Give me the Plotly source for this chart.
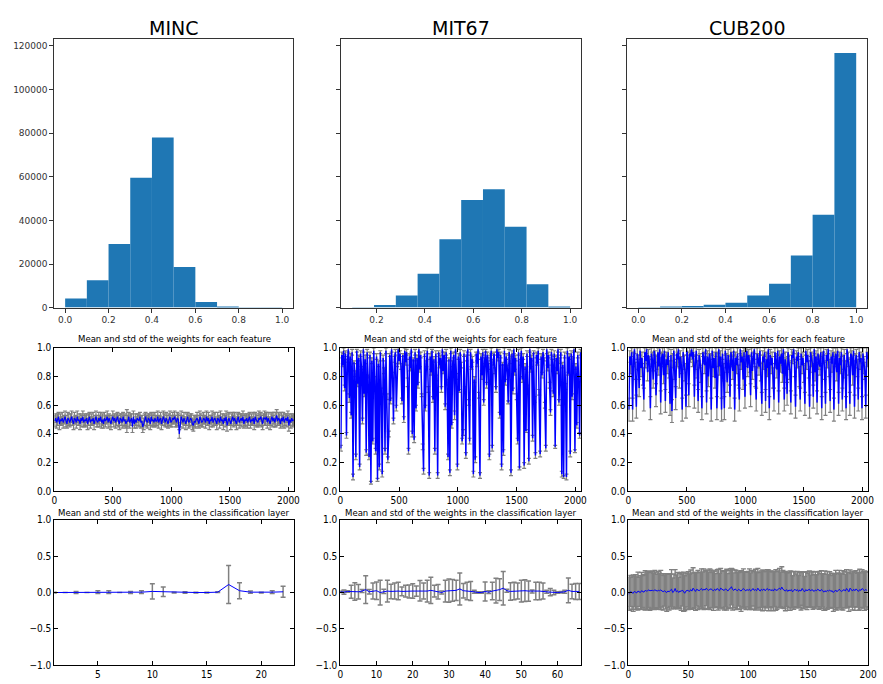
import numpy as np
import plotly.graph_objects as go

W, H = 883, 684

# ---------------- data ----------------
datasets = ["MINC", "MIT67", "CUB200"]

# histograms of the weights (bin edges, counts)
minc_hist_edges = [0.0, 0.1, 0.2, 0.3, 0.4, 0.5, 0.6, 0.7, 0.8, 0.9, 1.0]
minc_hist_counts = [4200, 12500, 29200, 59500, 78000, 18650, 2560, 450, 40, 10]
mit67_hist_edges = [0.10, 0.19, 0.28, 0.37, 0.46, 0.55, 0.64, 0.73, 0.82, 0.91, 1.00]
mit67_hist_counts = [20, 1200, 5560, 15500, 31400, 49300, 54300, 37100, 10700, 300]
cub_hist_edges = [0.0, 0.1, 0.2, 0.3, 0.4, 0.5, 0.6, 0.7, 0.8, 0.9, 1.0]
cub_hist_counts = [80, 450, 750, 1350, 2250, 5560, 10960, 23870, 42640, 116800]

# per-feature mean / std (sampled every 8 features, in hundredths)
n_features = 2048
feature_step = 8
minc_feat_mean = [
    49, 51, 48, 50, 52, 47, 50, 49, 51, 48, 50, 52, 49, 47, 51, 50,
    48, 50, 52, 49, 47, 51, 50, 48, 52, 49, 50, 47, 51, 49, 52, 48,
    50, 49, 51, 47, 50, 52, 48, 50, 49, 51, 47, 50, 52, 49, 48, 51,
    49, 52, 48, 50, 47, 51, 49, 50, 52, 48, 51, 49, 47, 50, 52, 49,
    51, 48, 50, 52, 49, 47, 51, 50, 48, 52, 49, 50, 47, 49, 49, 52,
    48, 50, 51, 45, 52, 47, 50, 48, 51, 50, 49, 52, 48, 49, 45, 47,
    50, 52, 49, 48, 51, 50, 47, 52, 49, 50, 48, 51, 49, 49, 52, 48,
    50, 51, 47, 49, 52, 50, 48, 51, 49, 47, 50, 52, 48, 49, 51, 50,
    52, 49, 48, 51, 50, 40, 49, 52, 50, 48, 51, 49, 47, 50, 52, 48,
    49, 51, 50, 47, 46, 49, 48, 50, 51, 49, 47, 52, 50, 48, 49, 51,
    50, 48, 52, 49, 51, 47, 50, 49, 52, 48, 50, 51, 49, 47, 51, 50,
    48, 52, 49, 50, 47, 51, 49, 52, 46, 50, 51, 49, 47, 50, 52, 49,
    51, 49, 47, 50, 52, 48, 50, 51, 49, 52, 47, 50, 49, 51, 48, 50,
    52, 48, 50, 49, 51, 47, 52, 50, 49, 48, 51, 50, 52, 49, 47, 51,
    51, 50, 52, 48, 51, 49, 47, 50, 52, 49, 51, 48, 50, 53, 49, 51,
    50, 47, 51, 49, 52, 48, 50, 51, 49, 52, 46, 50, 48, 51, 49, 50,
]
minc_feat_std = [
    4, 3, 4, 4, 3, 4, 4, 3, 4, 4, 3, 4, 4, 3, 4, 4,
    3, 4, 4, 3, 4, 4, 3, 4, 4, 3, 4, 4, 3, 4, 4, 3,
    4, 4, 3, 4, 4, 3, 4, 4, 3, 4, 4, 3, 4, 4, 3, 4,
    4, 3, 4, 4, 3, 4, 4, 3, 4, 4, 3, 4, 4, 3, 4, 4,
    3, 4, 4, 3, 4, 4, 3, 4, 4, 3, 4, 4, 3, 8, 4, 3,
    4, 4, 3, 4, 4, 3, 4, 4, 3, 4, 4, 3, 4, 4, 4, 4,
    4, 3, 4, 4, 3, 4, 4, 3, 4, 4, 3, 4, 4, 3, 4, 4,
    3, 4, 4, 3, 4, 4, 3, 4, 4, 3, 4, 4, 3, 4, 4, 3,
    4, 4, 3, 4, 4, 3, 4, 4, 3, 4, 4, 3, 4, 4, 3, 4,
    4, 3, 4, 4, 4, 4, 4, 3, 4, 4, 3, 4, 4, 3, 4, 4,
    3, 4, 4, 3, 4, 4, 3, 4, 4, 3, 4, 4, 3, 4, 4, 3,
    4, 4, 3, 4, 4, 3, 4, 4, 4, 4, 4, 3, 4, 4, 3, 4,
    4, 3, 4, 4, 3, 4, 4, 3, 4, 4, 3, 4, 4, 3, 4, 4,
    3, 4, 4, 3, 4, 4, 3, 4, 4, 3, 5, 4, 3, 4, 4, 3,
    5, 4, 3, 4, 4, 3, 4, 4, 3, 4, 4, 3, 5, 4, 3, 4,
    4, 3, 4, 4, 3, 4, 4, 3, 4, 4, 4, 4, 4, 3, 4, 4,
]
mit67_feat_mean = [
    30, 95, 88, 98, 72, 96, 39, 91, 99, 65, 94, 53, 97, 10, 90, 82,
    24, 98, 75, 93, 17, 96, 86, 49, 99, 68, 92, 27, 97, 80, 24, 95,
    6, 91, 35, 98, 77, 28, 94, 8, 89, 17, 97, 70, 12, 93, 84, 28,
    98, 66, 22, 40, 95, 63, 99, 81, 49, 92, 97, 58, 88, 99, 91, 96,
    87, 63, 95, 50, 98, 90, 97, 76, 28, 94, 86, 99, 40, 92, 36, 97,
    58, 93, 74, 99, 85, 95, 67, 31, 14, 96, 58, 89, 98, 71, 11, 94,
    83, 98, 64, 92, 28, 96, 79, 11, 97, 88, 93, 71, 99, 84, 95, 59,
    97, 76, 24, 92, 13, 98, 46, 89, 95, 53, 99, 80, 17, 94, 70, 97,
    88, 35, 41, 96, 72, 25, 93, 99, 62, 35, 97, 86, 92, 12, 78, 22,
    96, 89, 99, 67, 11, 94, 81, 97, 62, 91, 98, 74, 95, 87, 24, 93,
    98, 30, 90, 96, 84, 71, 99, 93, 97, 53, 95, 17, 89, 27, 98, 76,
    94, 86, 62, 97, 91, 13, 96, 70, 99, 83, 93, 66, 35, 97, 16, 90,
    98, 78, 94, 18, 87, 42, 96, 72, 21, 99, 85, 93, 37, 97, 64, 25,
    95, 89, 98, 69, 26, 94, 81, 97, 92, 60, 30, 99, 86, 95, 74, 55,
    97, 90, 68, 96, 31, 93, 84, 99, 62, 91, 97, 12, 88, 10, 95, 73,
    10, 98, 82, 94, 26, 96, 66, 91, 99, 28, 87, 46, 95, 78, 39, 97,
]
mit67_feat_std = [
    2, 2, 1, 2, 2, 2, 2, 1, 2, 3, 2, 2, 2, 2, 1, 2,
    2, 1, 2, 2, 2, 2, 1, 2, 2, 2, 3, 2, 2, 1, 2, 2,
    1, 2, 2, 2, 3, 2, 2, 1, 2, 2, 1, 2, 2, 2, 2, 2,
    2, 2, 2, 2, 1, 2, 2, 2, 2, 2, 2, 2, 1, 2, 2, 2,
    2, 2, 1, 2, 2, 2, 2, 3, 2, 2, 2, 2, 2, 1, 2, 2,
    2, 2, 2, 2, 2, 2, 1, 2, 2, 2, 2, 2, 2, 2, 2, 2,
    2, 1, 2, 2, 2, 2, 2, 2, 1, 2, 2, 2, 2, 2, 2, 2,
    2, 2, 2, 1, 2, 2, 2, 2, 2, 3, 2, 2, 2, 2, 1, 2,
    2, 2, 2, 2, 1, 2, 2, 2, 2, 2, 2, 1, 2, 2, 2, 2,
    1, 2, 2, 2, 2, 2, 3, 2, 2, 2, 1, 2, 2, 2, 2, 2,
    2, 2, 2, 1, 2, 2, 2, 2, 2, 2, 2, 2, 1, 2, 2, 2,
    2, 2, 1, 2, 2, 2, 2, 2, 3, 2, 2, 2, 2, 2, 1, 2,
    2, 2, 2, 2, 2, 1, 2, 2, 2, 2, 2, 2, 2, 1, 2, 2,
    2, 1, 2, 2, 2, 2, 2, 2, 1, 2, 2, 3, 2, 2, 2, 2,
    2, 2, 2, 2, 1, 2, 2, 2, 2, 2, 2, 2, 2, 1, 2, 2,
    2, 2, 1, 2, 2, 2, 2, 2, 2, 1, 2, 2, 2, 2, 2, 2,
]
cub_feat_mean = [
    57, 94, 88, 97, 57, 92, 99, 84, 59, 96, 90, 72, 98, 86, 93, 80,
    64, 97, 91, 99, 83, 95, 89, 58, 96, 92, 78, 98, 94, 67, 90, 97,
    87, 99, 62, 93, 96, 81, 98, 63, 92, 88, 97, 85, 61, 95, 56, 91,
    98, 84, 65, 96, 92, 99, 79, 94, 88, 57, 97, 90, 83, 59, 98, 93,
    67, 96, 94, 99, 92, 97, 66, 90, 98, 85, 63, 95, 91, 82, 58, 97,
    93, 88, 99, 62, 94, 80, 96, 91, 57, 98, 86, 93, 79, 97, 58, 92,
    99, 87, 94, 57, 96, 83, 58, 98, 91, 76, 95, 89, 66, 97, 92, 84,
    98, 57, 93, 88, 96, 81, 64, 99, 90, 94, 78, 97, 66, 92, 98, 86,
    95, 89, 67, 97, 84, 93, 99, 80, 64, 96, 91, 87, 98, 83, 61, 94,
    90, 97, 63, 92, 86, 99, 58, 95, 88, 93, 79, 64, 97, 91, 85, 98,
    62, 94, 89, 96, 82, 99, 64, 92, 87, 68, 97, 90, 84, 62, 95, 93,
    99, 86, 59, 94, 91, 97, 80, 64, 96, 88, 93, 82, 61, 98, 90, 95,
    85, 59, 97, 92, 89, 66, 99, 83, 94, 62, 96, 90, 87, 97, 58, 93,
    98, 84, 61, 95, 91, 99, 86, 63, 94, 89, 97, 57, 92, 96, 83, 98,
    61, 93, 88, 97, 64, 90, 95, 85, 58, 99, 92, 87, 61, 96, 94, 81,
    98, 59, 91, 95, 86, 64, 97, 90, 93, 58, 96, 88, 84, 59, 97, 92,
]
cub_feat_std = [
    8, 4, 6, 3, 8, 5, 3, 6, 8, 4, 5, 6, 3, 6, 4, 6,
    8, 3, 5, 3, 6, 4, 5, 8, 4, 5, 6, 3, 4, 8, 5, 3,
    6, 3, 8, 4, 4, 6, 3, 8, 5, 6, 3, 6, 8, 4, 8, 5,
    3, 6, 8, 4, 5, 3, 7, 4, 6, 8, 3, 5, 6, 8, 3, 4,
    8, 4, 4, 3, 5, 3, 8, 5, 3, 6, 8, 4, 5, 6, 8, 3,
    4, 6, 3, 8, 4, 7, 4, 5, 8, 3, 6, 4, 7, 3, 8, 5,
    3, 6, 4, 8, 4, 6, 8, 3, 5, 7, 4, 6, 8, 3, 5, 6,
    3, 8, 4, 6, 4, 7, 8, 3, 5, 4, 7, 3, 8, 5, 3, 6,
    4, 6, 8, 3, 6, 4, 3, 7, 8, 4, 5, 6, 3, 6, 8, 4,
    5, 3, 8, 5, 6, 3, 8, 4, 6, 4, 7, 8, 3, 5, 6, 3,
    8, 4, 6, 4, 6, 3, 8, 5, 6, 8, 3, 5, 6, 8, 4, 4,
    3, 6, 8, 4, 5, 3, 7, 8, 4, 6, 4, 6, 8, 3, 5, 4,
    6, 8, 3, 5, 6, 8, 3, 6, 4, 8, 4, 5, 6, 3, 8, 4,
    3, 6, 8, 4, 5, 3, 6, 8, 4, 6, 3, 8, 5, 4, 6, 3,
    8, 4, 6, 3, 8, 5, 4, 6, 8, 3, 5, 6, 8, 4, 4, 7,
    3, 8, 5, 4, 6, 8, 3, 5, 4, 8, 4, 6, 6, 8, 3, 5,
]

# classification layer mean / std per class
minc_cls_x = list(range(1, 23))
minc_cls_mean_milli = [0, 0, 0, 0, 5, 5, 0, 0, 5, 15, 10, 0, 0, 0, 0, 5, 110, 25, 5, 0, 5, 10]
minc_cls_std_milli = [5, 0, 15, 0, 20, 20, 0, 15, 20, 105, 65, 5, 10, 5, 5, 5, 260, 110, 15, 5, 20, 75]

mit67_cls_x = list(range(0, 67))
mit67_cls_mean_milli = [10, 5, 15, 10, 15, 10, 20, 40, 10, 20, 25, 0, 15, 20, 15, 20, 20, 15, 20, 15,
                        20, 20, 25, 20, 20, 30, 20, 10, 0, 20, 25, 30, 30, 50, 25, 20, 20, 10, 0, 0,
                        15, 5, 20, 25, 40, 60, 25, 15, 20, 20, 20, 25, 20, 15, 20, 20, 20, 10, 5, 0,
                        0, 5, 10, 30, 15, 15, 15]
mit67_cls_std_centi = [1, 3, 1, 9, 12, 10, 2, 19, 3, 11, 12, 17, 3, 15, 10, 11, 12, 6, 8, 9,
                       10, 7, 14, 11, 15, 18, 8, 10, 2, 15, 16, 15, 14, 22, 10, 12, 13, 2, 1, 1,
                       13, 2, 12, 17, 15, 23, 2, 12, 12, 11, 15, 15, 14, 2, 12, 12, 11, 2, 5, 3,
                       1, 1, 2, 17, 10, 11, 11]

cub_cls_x = list(range(0, 200))
cub_cls_mean_milli = [
    -20, -5, 10, 0, -10, 15, 5, -5, 20, 10, 0, 25, 15, 5, 30, 20, 25, 35, 25, 30,
    30, 25, 35, 30, 20, 30, 25, 35, 20, 10, 25, 15, 0, 20, 10, 30, 45, 0, 15, 55,
    10, 25, 0, 20, 15, 35, 10, -10, 20, 30, 25, 15, 40, 20, 60, 30, 15, 45, 35, 25,
    40, 55, 30, 45, 35, 60, 40, 30, 45, 50, 35, 25, 45, 30, 55, 40, 25, 60, 45, 35,
    30, 50, 40, 20, 45, 55, 80, 40, 30, 50, 35, 25, 45, 30, 20, 40, 55, 35, 25, 40,
    30, 45, 20, 35, 55, 30, 40, 25, 60, 35, 20, 45, 30, 50, 25, 40, 55, 30, 45, 25,
    40, 20, 50, 35, 30, 45, 60, 40, 75, 45, 30, 20, 40, 15, 35, 25, 40, 10, 30, 45,
    25, 40, 15, 35, 20, 55, 30, 10, 40, 25, 35, 45, 20, 40, 30, 15, 35, 25, 45, 30,
    20, 40, 30, 5, 25, 10, 30, 20, 35, 15, 25, 0, 20, 35, 10, 30, 45, 25, 15, 30,
    40, 20, 55, 35, 10, 60, 30, 20, 45, 25, 50, 35, 15, 40, 30, 55, 35, 25, 40, 30,
]
cub_cls_std_centi = [
    22, 24, 20, 23, 25, 21, 24, 22, 26, 20, 23, 25, 22, 24, 27, 25, 26, 24, 27, 25,
    26, 24, 27, 25, 23, 26, 24, 27, 22, 25, 21, 24, 26, 23, 25, 22, 27, 20, 24, 26,
    23, 25, 21, 24, 26, 22, 27, 24, 25, 23, 26, 24, 27, 25, 28, 24, 26, 23, 27, 25,
    24, 27, 25, 28, 26, 24, 27, 25, 28, 26, 24, 27, 25, 23, 26, 28, 24, 27, 25, 26,
    27, 25, 28, 24, 26, 27, 25, 28, 24, 26, 27, 25, 23, 26, 28, 24, 27, 25, 26, 24,
    26, 28, 25, 27, 24, 26, 28, 25, 27, 24, 26, 25, 28, 24, 27, 25, 26, 28, 24, 27,
    25, 27, 24, 28, 26, 25, 27, 24, 28, 26, 25, 27, 23, 26, 24, 27, 25, 22, 26, 24,
    23, 25, 22, 24, 26, 23, 25, 21, 24, 26, 23, 25, 22, 24, 26, 23, 25, 22, 24, 26,
    24, 26, 23, 25, 27, 24, 26, 23, 25, 22, 24, 26, 23, 27, 25, 24, 26, 23, 25, 27,
    25, 23, 26, 24, 27, 25, 23, 26, 24, 27, 25, 23, 26, 28, 24, 26, 25, 27, 24, 26,
]

hist_ticks = [0.0, 0.2, 0.4, 0.6, 0.8, 1.0]
count_ticks = [0, 20000, 40000, 60000, 80000, 100000, 120000]
feat_ticks = [0, 500, 1000, 1500, 2000]
title_feat = "Mean and std of the weights for each feature"
title_cls = "Mean and std of the weights in the classification layer"

# ---------------- layout geometry (pixels) ----------------
col_x_top = [(52, 294), (343, 586), (633, 876)]
col_x_low = [(52, 295), (342, 586), (634, 877)]
row_y = [(34, 307), (348, 494), (523, 671)]
hist_xrange = [[-0.05, 1.05], [0.055, 1.045], [-0.05, 1.05]]
cls_xrange = [[1, 23], [0, 66.5], [0, 200]]
cls_xticks = [[5, 10, 15, 20], [0, 10, 20, 30, 40, 50, 60], [0, 50, 100, 150, 200]]
feat_line_w = [1.2, 1.5, 1.5]
cls_err_w = [1.5, 1.5, 1.4]


def xdom(a, b):
    return [a / W, b / W]


def ydom(t, b):
    return [1 - b / H, 1 - t / H]


fig = go.Figure()

TOPFONT = dict(family="DejaVu Sans", size=9, color="#333333")
NARROW = "DejaVu Sans Condensed, Liberation Sans Narrow, sans-serif"
LOWFONT = dict(family=NARROW, size=10, color="black")
TITLEFONT = dict(family=NARROW, size=9.5, color="black")

hists = [
    (minc_hist_edges, minc_hist_counts),
    (mit67_hist_edges, mit67_hist_counts),
    (cub_hist_edges, cub_hist_counts),
]
feats = [
    (minc_feat_mean, minc_feat_std),
    (mit67_feat_mean, mit67_feat_std),
    (cub_feat_mean, cub_feat_std),
]
clss = [
    (minc_cls_x, np.array(minc_cls_mean_milli) / 1000, np.array(minc_cls_std_milli) / 1000),
    (mit67_cls_x, np.array(mit67_cls_mean_milli) / 1000, np.array(mit67_cls_std_centi) / 100),
    (cub_cls_x, np.array(cub_cls_mean_milli) / 1000, np.array(cub_cls_std_centi) / 100),
]

layout = {}
annotations = []
for c in range(3):
    # ---- row 1: histogram ----
    k = c + 1
    edges, counts = hists[c]
    edges = np.array(edges)
    centers = (edges[:-1] + edges[1:]) / 2
    widths = edges[1:] - edges[:-1]
    fig.add_trace(go.Bar(x=centers, y=counts, width=widths,
                         marker=dict(color="#1f77b4", line=dict(width=0)),
                         xaxis=f"x{k}", yaxis=f"y{k}", showlegend=False))
    layout[f"xaxis{k}"] = dict(domain=xdom(*col_x_top[c]), anchor=f"y{k}", range=hist_xrange[c],
                               tickvals=hist_ticks, ticktext=[f"{v:.1f}" for v in hist_ticks],
                               ticks="outside", ticklen=4, tickcolor="#333333",
                               showline=True, linecolor="#333333", linewidth=1, mirror=True,
                               showgrid=False, zeroline=False, tickfont=TOPFONT)
    layout[f"yaxis{k}"] = dict(domain=ydom(*row_y[0]), anchor=f"x{k}", range=[0, 123000],
                               tickvals=count_ticks, ticktext=[str(v) for v in count_ticks],
                               showticklabels=(c == 0),
                               ticks="outside", ticklen=4, tickcolor="#333333",
                               showline=True, linecolor="#333333", linewidth=1, mirror=True,
                               showgrid=False, zeroline=False, tickfont=TOPFONT)
    annotations.append(dict(text=datasets[c], x=sum(col_x_top[c]) / 2 / W, y=1 - 22 / H,
                            xref="paper", yref="paper", showarrow=False,
                            xanchor="center", yanchor="middle",
                            font=dict(family="DejaVu Sans", size=19, color="black")))

    # ---- row 2: per-feature mean/std ----
    k = c + 4
    mean, std = feats[c]
    xs = np.arange(len(mean)) * feature_step + feature_step / 2
    m = np.array(mean) / 100
    s = np.array(std) / 100
    fig.add_trace(go.Scatter(x=xs, y=m, mode="markers", marker=dict(size=1, color="gray"),
                             error_y=dict(type="data", array=s, color="gray", thickness=1.2, width=2),
                             xaxis=f"x{k}", yaxis=f"y{k}", showlegend=False, hoverinfo="skip"))
    fig.add_trace(go.Scatter(x=xs, y=m, mode="lines", line=dict(color="blue", width=feat_line_w[c]),
                             xaxis=f"x{k}", yaxis=f"y{k}", showlegend=False))
    layout[f"xaxis{k}"] = dict(domain=xdom(*col_x_low[c]), anchor=f"y{k}", range=[0, n_features],
                               tickvals=feat_ticks, ticktext=[str(v) for v in feat_ticks],
                               ticks="inside", ticklen=4, tickcolor="black",
                               showline=True, linecolor="black", linewidth=1, mirror="ticks",
                               showgrid=False, zeroline=False, tickfont=LOWFONT)
    layout[f"yaxis{k}"] = dict(domain=ydom(*row_y[1]), anchor=f"x{k}", range=[0, 1],
                               tickvals=[0, 0.2, 0.4, 0.6, 0.8, 1.0],
                               ticktext=["0.0", "0.2", "0.4", "0.6", "0.8", "1.0"],
                               ticks="inside", ticklen=4, tickcolor="black",
                               showline=True, linecolor="black", linewidth=1, mirror="ticks",
                               showgrid=False, zeroline=False, tickfont=LOWFONT)
    annotations.append(dict(text=title_feat, x=sum(col_x_low[c]) / 2 / W, y=1 - 338 / H,
                            xref="paper", yref="paper", showarrow=False,
                            xanchor="center", yanchor="middle", font=TITLEFONT))

    # ---- row 3: classification layer mean/std ----
    k = c + 7
    cx, cm, cs = clss[c]
    fig.add_trace(go.Scatter(x=cx, y=cm, mode="markers", marker=dict(size=1, color="gray"),
                             error_y=dict(type="data", array=cs, color="gray",
                                          thickness=cls_err_w[c], width=2.5),
                             xaxis=f"x{k}", yaxis=f"y{k}", showlegend=False, hoverinfo="skip"))
    fig.add_trace(go.Scatter(x=cx, y=cm, mode="lines", line=dict(color="blue", width=1),
                             xaxis=f"x{k}", yaxis=f"y{k}", showlegend=False))
    layout[f"xaxis{k}"] = dict(domain=xdom(*col_x_low[c]), anchor=f"y{k}", range=cls_xrange[c],
                               tickvals=cls_xticks[c], ticktext=[str(v) for v in cls_xticks[c]],
                               ticks="inside", ticklen=4, tickcolor="black",
                               showline=True, linecolor="black", linewidth=1, mirror="ticks",
                               showgrid=False, zeroline=False, tickfont=LOWFONT)
    layout[f"yaxis{k}"] = dict(domain=ydom(*row_y[2]), anchor=f"x{k}", range=[-1, 1],
                               tickvals=[-1, -0.5, 0, 0.5, 1],
                               ticktext=["\u22121.0", "\u22120.5", "0.0", "0.5", "1.0"],
                               ticks="inside", ticklen=4, tickcolor="black",
                               showline=True, linecolor="black", linewidth=1, mirror="ticks",
                               showgrid=False, zeroline=False, tickfont=LOWFONT)
    annotations.append(dict(text=title_cls, x=sum(col_x_low[c]) / 2 / W, y=1 - 516 / H,
                            xref="paper", yref="paper", showarrow=False,
                            xanchor="center", yanchor="middle", font=TITLEFONT))

fig.update_layout(width=W, height=H, margin=dict(l=0, r=0, t=0, b=0),
                  paper_bgcolor="white", plot_bgcolor="white", showlegend=False,
                  annotations=annotations, **layout)

fig.write_html("out.html", config={"displayModeBar": False},
               post_script="document.body.style.margin='0';document.body.style.overflow='hidden';")
